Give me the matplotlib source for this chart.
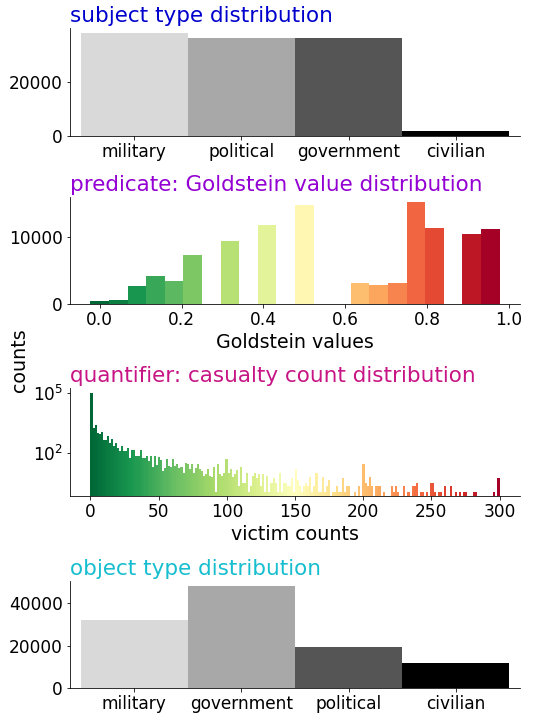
import numpy as np
import matplotlib
matplotlib.use('Agg')
from matplotlib import pyplot as plt
from matplotlib.ticker import NullLocator

plt.rcParams['font.size'] = 17
plt.rcParams['axes.labelsize'] = 19

# subject / object type counts
subject_types = ['military', 'political', 'government', 'civilian']
subject_counts = [38300, 36400, 36400, 1900]

object_types = ['military', 'government', 'political', 'civilian']
object_counts = [32100, 48200, 19400, 11800]

type_colors = ['#d9d9d9', '#a8a8a8', '#555555', '#000000']

# Goldstein values (normalised to 0..1), 22 bins
goldstein_centers = np.arange(22) / 22
goldstein_counts = [490, 640, 2710, 4190, 3450, 7290, 0, 9360, 0, 11770, 0, 14720,
                    0, 0, 3150, 2860, 3150, 15120, 11280, 80, 10390, 11130]

# casualty histogram, 200 bins of width 1.5 over 0..300
victim_edges = np.linspace(0, 300, 201)
victim_counts = [
    100000, 1850, 2500, 1030, 850, 1110, 440, 440, 730, 300,
    490, 220, 300, 180, 122, 220, 122, 122, 166, 56,
    137, 137, 71, 71, 132, 52, 52, 68, 38, 68,
    20, 65, 24, 60, 45, 12, 16, 50, 22, 19,
    50, 22, 28, 16, 19, 10, 30, 26, 15, 26,
    10, 17, 26, 15, 12, 7, 8, 15, 7, 6,
    19, 1, 26, 8, 7, 9, 48, 9, 15, 6,
    8, 13, 2, 19, 3, 3, 9, 1, 2, 7,
    9, 5, 8, 2, 8, 1, 7, 1, 3, 5,
    3, 1, 10, 1, 3, 3, 2, 2, 5, 1,
    15, 4, 2, 1, 2, 3, 2, 6, 1, 2,
    9, 1, 1, 6, 1, 2, 4, 0, 1, 1,
    2, 1, 1, 5, 1, 2, 2, 0, 0, 1,
    0, 2, 0, 28, 3, 2, 6, 2, 0, 2,
    2, 2, 0, 1, 0, 0, 0, 2, 1, 2,
    1, 0, 0, 2, 0, 1, 0, 2, 2, 3,
    0, 1, 1, 0, 1, 0, 3, 3, 1, 0,
    1, 1, 0, 2, 0, 0, 2, 0, 1, 0,
    1, 0, 1, 1, 0, 0, 0, 1, 1, 0,
    0, 0, 0, 0, 0, 0, 0, 1, 0, 5,
]

cmap = plt.get_cmap('RdYlGn_r')
title_size = 21.5

fig = plt.figure(figsize=(541 / 72, 718 / 72), dpi=72)
W, H = 541, 718


def add_axes(left, top, right, bottom):
    return fig.add_axes([left / W, 1 - bottom / H, (right - left) / W, (bottom - top) / H])


def clean(ax):
    ax.spines['top'].set_visible(False)
    ax.spines['right'].set_visible(False)


#%% subject types
ax1 = add_axes(70, 28, 520, 136)
ax1.bar(range(len(subject_types)), subject_counts, width=1.0, color=type_colors)
ax1.set_xticks(range(len(subject_types)))
ax1.set_xticklabels(subject_types)
ax1.set_yticks([0, 20000])
ax1.set_xlim(-0.6, 3.6)
ax1.set_title('subject type distribution', loc='left', color='mediumblue', fontsize=title_size)
clean(ax1)

#%% predicate: Goldstein
ax2 = add_axes(70, 196.7, 520, 304.3)
ax2.bar(goldstein_centers, goldstein_counts, width=1 / 22,
        color=[cmap(k / 21) for k in range(22)])
ax2.set_xticks([0.0, 0.2, 0.4, 0.6, 0.8, 1.0])
ax2.set_yticks([0, 10000])
ax2.set_xlabel('Goldstein values')
ax2.set_title('predicate: Goldstein value distribution', loc='left', color='darkviolet', fontsize=title_size)
clean(ax2)

#%% quantifier: casualties
ax3 = add_axes(70, 388.3, 520, 496)
ax3.bar(victim_edges[:-1], victim_counts, width=1.5, align='edge',
        color=[cmap(i / 199) for i in range(200)])
ax3.set_yscale('log')
ax3.set_ylim(0.65, 1.8e5)
ax3.set_yticks([1e2, 1e5])
ax3.yaxis.set_minor_locator(NullLocator())
ax3.set_xlim(-15, 315)
ax3.set_xticks([0, 50, 100, 150, 200, 250, 300])
ax3.set_xlabel('victim counts')
ax3.set_title('quantifier: casualty count distribution', loc='left', color='mediumvioletred', fontsize=title_size)
clean(ax3)

#%% object types
ax4 = add_axes(70, 580.7, 520, 688)
ax4.bar(range(len(object_types)), object_counts, width=1.0, color=type_colors)
ax4.set_xticks(range(len(object_types)))
ax4.set_xticklabels(object_types)
ax4.set_yticks([0, 20000, 40000])
ax4.set_xlim(-0.6, 3.6)
ax4.set_title('object type distribution', loc='left', color='tab:cyan', fontsize=title_size)
clean(ax4)

fig.text(19 / W, 1 - 360 / H, 'counts', rotation=90, ha='center', va='center', fontsize=19)

plt.savefig('out.png', dpi=72)
